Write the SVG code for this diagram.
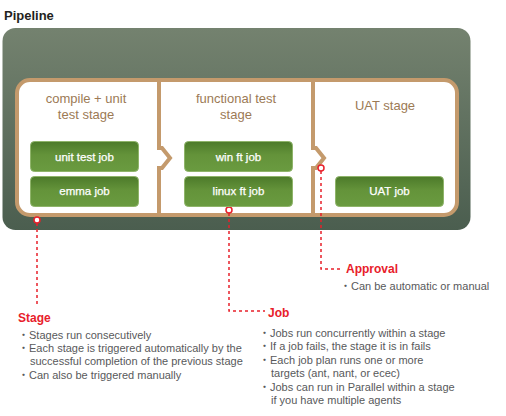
<svg xmlns="http://www.w3.org/2000/svg" width="506" height="416" viewBox="0 0 506 416">
  <defs>
    <linearGradient id="gOuter" x1="0" y1="0" x2="0" y2="1">
      <stop offset="0" stop-color="#74826f"/>
      <stop offset="1" stop-color="#4b5e4f"/>
    </linearGradient>
    <linearGradient id="gJob" x1="0" y1="0" x2="0" y2="1">
      <stop offset="0" stop-color="#4c7a2a"/>
      <stop offset="0.45" stop-color="#64933a"/>
      <stop offset="1" stop-color="#6a9b40"/>
    </linearGradient>
    <style>
      .stageTitle { font-family: "Liberation Sans", Arial, sans-serif; font-size: 13px; fill: #9c7a55; text-anchor: middle; }
      .job rect { fill: url(#gJob); stroke: #8fb46a; stroke-width: 1; }
      .job text { font-family: "Liberation Sans", Arial, sans-serif; font-size: 11.5px; fill: #ffffff; text-anchor: middle; stroke: #ffffff; stroke-width: 0.25; }
      .head { font-family: "Liberation Sans", Arial, sans-serif; font-size: 12px; font-weight: bold; fill: #e8202a; }
      .body { font-family: "Liberation Sans", "Noto Sans CJK JP", sans-serif; font-size: 11px; fill: #58595b; }
      .divider { fill: none; stroke: #c49a6c; stroke-width: 4; stroke-linejoin: miter; }
      .lead { fill: none; stroke: #e8202a; stroke-width: 1.5; stroke-dasharray: 3 3; }
      .pin { fill: #ffffff; stroke: #e8202a; stroke-width: 1.5; }
    </style>
  </defs>

  <text x="4" y="20" font-family="Liberation Sans, Arial, sans-serif" font-size="13" font-weight="bold" fill="#231f20">Pipeline</text>

  <g id="pipeline">
    <rect x="2.5" y="28" width="468" height="202" rx="13" fill="url(#gOuter)"/>
    <rect x="17" y="80" width="440" height="135" rx="13" fill="#ffffff" stroke="#c49a6c" stroke-width="4"/>
  </g>

  <g id="stage-compile">
    <text class="stageTitle" x="86" y="103">compile + unit</text>
    <text class="stageTitle" x="86" y="119">test stage</text>
  </g>
  <g id="stage-functional">
    <text class="stageTitle" x="236" y="103">functional test</text>
    <text class="stageTitle" x="236" y="119">stage</text>
  </g>
  <g id="stage-uat">
    <text class="stageTitle" x="385" y="110">UAT stage</text>
  </g>

  <g id="connectors">
    <path class="divider" d="M159,80 V148 H162 L170,158 L162,168 H159 V215"/>
    <path class="divider" d="M313,80 V148 H316 L324,158 L316,168 H313 V215"/>
    <path class="lead" d="M37,223 V307"/>
    <path class="lead" d="M229,213 V311 H265"/>
    <path class="lead" d="M321,171 V269 H340"/>
    <circle class="pin" cx="37" cy="220" r="3"/>
    <circle class="pin" cx="229" cy="210" r="3"/>
    <circle class="pin" cx="321" cy="168" r="3"/>
  </g>

  <g id="job-unit" class="job">
    <rect x="30.5" y="141.5" width="108" height="30" rx="4"/>
    <text x="84.5" y="160.5">unit test job</text>
  </g>
  <g id="job-emma" class="job">
    <rect x="30.5" y="176.5" width="108" height="30" rx="4"/>
    <text x="84.5" y="195">emma job</text>
  </g>
  <g id="job-win" class="job">
    <rect x="184.5" y="141.5" width="108" height="30" rx="4"/>
    <text x="238.5" y="160.5">win ft job</text>
  </g>
  <g id="job-linux" class="job">
    <rect x="184.5" y="176.5" width="108" height="30" rx="4"/>
    <text x="238.5" y="195">linux ft job</text>
  </g>
  <g id="job-uat" class="job">
    <rect x="335.5" y="176.5" width="108" height="30" rx="4"/>
    <text x="389.5" y="195">UAT job</text>
  </g>

  <g id="note-stage">
    <text class="head" x="18" y="322">Stage</text>
    <text class="body" x="18" y="339">・Stages run consecutively</text>
    <text class="body" x="18" y="352">・Each stage is triggered automatically by the</text>
    <text class="body" x="30" y="365">successful completion of the previous stage</text>
    <text class="body" x="18" y="379">・Can also be triggered manually</text>
  </g>

  <g id="note-job">
    <text class="head" x="268" y="317">Job</text>
    <text class="body" x="259" y="337">・Jobs run concurrently within a stage</text>
    <text class="body" x="259" y="350">・If a job fails, the stage it is in fails</text>
    <text class="body" x="259" y="364">・Each job plan runs one or more</text>
    <text class="body" x="271" y="377">targets (ant, nant, or ecec)</text>
    <text class="body" x="259" y="391">・Jobs can run in Parallel within a stage</text>
    <text class="body" x="271" y="404">if you have multiple agents</text>
  </g>

  <g id="note-approval">
    <text class="head" x="346" y="273">Approval</text>
    <text class="body" x="340" y="290">・Can be automatic or manual</text>
  </g>
</svg>
